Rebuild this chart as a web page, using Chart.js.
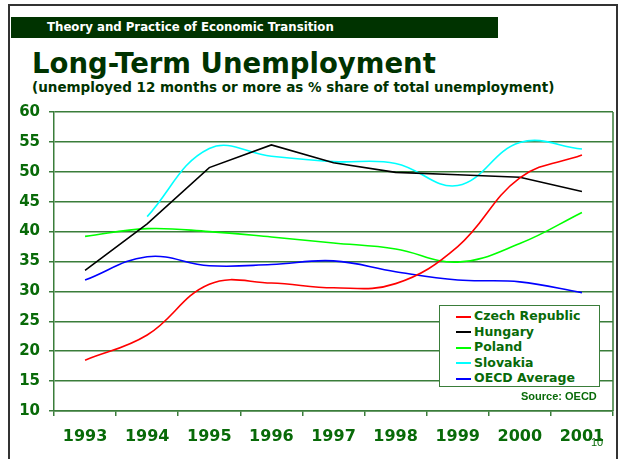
<!DOCTYPE html>
<html>
<head>
<meta charset="utf-8">
<script src="https://cdn.jsdelivr.net/npm/chart.js@4/dist/chart.umd.min.js"></script>
<style>
  html, body { margin: 0; padding: 0; background: #fff; }
  body { width: 618px; height: 459px; position: relative; overflow: hidden; font-family: "DejaVu Sans", Verdana, sans-serif; }
  #frame { position: absolute; left: 8px; top: 4px; width: 606px; height: 470px; border: 2px solid #333; border-bottom: none; }
  #band { position: absolute; left: 11px; top: 17px; width: 487px; height: 21px; background: #003300; color: #fff;
          font-weight: bold; font-size: 11.75px; line-height: 21px; padding-left: 36px; box-sizing: border-box; white-space: nowrap; }
  #title { position: absolute; left: 32px; top: 47px; color: #003300; font-weight: bold; font-size: 27.5px; white-space: nowrap; line-height: normal; }
  #subtitle { position: absolute; left: 32px; top: 78.5px; color: #003300; font-weight: bold; font-size: 13.5px; white-space: nowrap; line-height: normal; }
  #chartBox { position: absolute; left: 0; top: 0; width: 618px; height: 459px; }
  #legend { position: absolute; left: 439px; top: 305px; width: 161px; height: 82px; box-sizing: border-box;
            border: 1px solid #3a7d3a; background: #fff; padding: 2px 0 0 16px; }
  .item { height: 15.5px; line-height: 15.5px; font-weight: bold; font-size: 12.5px; color: #086a08; white-space: nowrap; }
  .item span { display: inline-block; width: 15px; height: 2px; vertical-align: middle; margin-right: 3px; }
  #source { position: absolute; left: 521px; top: 390px; font-family: "Liberation Sans", Arial, sans-serif; font-weight: bold;
            font-size: 11px; color: #086a08; }
  #page { position: absolute; left: 591px; top: 436px; font-family: "Liberation Sans", Arial, sans-serif; font-size: 11px; color: #086a08; }
</style>
</head>
<body>
<div id="frame"></div>
<div id="band">Theory and Practice of Economic Transition</div>
<div id="title">Long-Term Unemployment</div>
<div id="subtitle">(unemployed 12 months or more as % share of total unemployment)</div>
<div id="chartBox"><canvas id="chart" width="618" height="459"></canvas></div>
<div id="legend"></div>
<div id="source">Source: OECD</div>
<div id="page">10</div>
<script>
// years on the x axis
const years = ['1993', '1994', '1995', '1996', '1997', '1998', '1999', '2000', '2001'];

// share of long-term unemployed (%)
const czech    = [18.5, 22.7, 31.2, 31.4, 30.6, 31.3, 37.5, 49.0, 52.8];
const hungary  = [33.5, 41.3, 50.7, 54.5, 51.5, 49.9, 49.5, 49.1, 46.7];
const poland   = [39.2, 40.5, 40.0, 39.1, 38.1, 37.1, 34.9, 38.0, 43.2];
const slovakia = [null, 42.5, 53.9, 52.6, 51.7, 51.4, 47.7, 54.9, 53.8];
const oecd     = [31.9, 35.8, 34.3, 34.5, 35.1, 33.3, 31.9, 31.6, 29.8];

const seriesNames = ['Czech Republic', 'Hungary', 'Poland', 'Slovakia', 'OECD Average'];

// y axis range
const yMin = 10;
const yMax = 60;
const yStep = 5;

const green = '#086a08';
const gridGreen = '#3a7d3a';

const colors = ['#ff0000', '#000000', '#00ff00', '#00ffff', '#0000ff'];
const values = [czech, hungary, poland, slovakia, oecd];

const datasets = seriesNames.map((name, i) => ({
    label: name,
    data: values[i],
    borderColor: colors[i],
    backgroundColor: colors[i],
    borderWidth: 1.6,
    pointRadius: 0,
    tension: i === 1 ? 0 : 0.4,
    fill: false
}));

// right border of the plot area
const rightBorder = {
    id: 'rightBorder',
    afterDraw(chart) {
        const a = chart.chartArea;
        const ctx = chart.ctx;
        ctx.save();
        ctx.strokeStyle = gridGreen;
        ctx.lineWidth = 1.5;
        ctx.beginPath();
        ctx.moveTo(a.right, a.top);
        ctx.lineTo(a.right, a.bottom);
        ctx.stroke();
        ctx.restore();
    }
};

new Chart(document.getElementById('chart'), {
    type: 'line',
    data: { labels: years, datasets: datasets },
    plugins: [rightBorder],
    options: {
        responsive: false,
        animation: false,
        layout: { padding: { left: 10, right: 5, top: 112, bottom: 8 } },
        plugins: { legend: { display: false }, tooltip: { enabled: false } },
        scales: {
            x: {
                offset: true,
                afterFit(scale) { scale.height = 40; },
                grid: { offset: true, drawOnChartArea: false, drawTicks: true, tickLength: 5, color: gridGreen, lineWidth: 1.5 },
                border: { color: gridGreen, width: 1.5 },
                ticks: { color: green, padding: 11, font: { family: 'DejaVu Sans', weight: 'bold', size: 16 } }
            },
            y: {
                min: yMin,
                max: yMax,
                afterFit(scale) { scale.width = 44; },
                ticks: { stepSize: yStep, color: green, padding: 9, font: { family: 'DejaVu Sans', weight: 'bold', size: 15 } },
                grid: { color: gridGreen, lineWidth: 1.5, tickLength: 5 },
                border: { color: gridGreen, width: 1.5 }
            }
        }
    }
});

// legend inside the plot
const legend = document.getElementById('legend');
seriesNames.forEach((name, i) => {
    const row = document.createElement('div');
    row.className = 'item';
    row.innerHTML = '<span style="background:' + colors[i] + '"></span>' + name;
    legend.appendChild(row);
});
</script>
</body>
</html>
